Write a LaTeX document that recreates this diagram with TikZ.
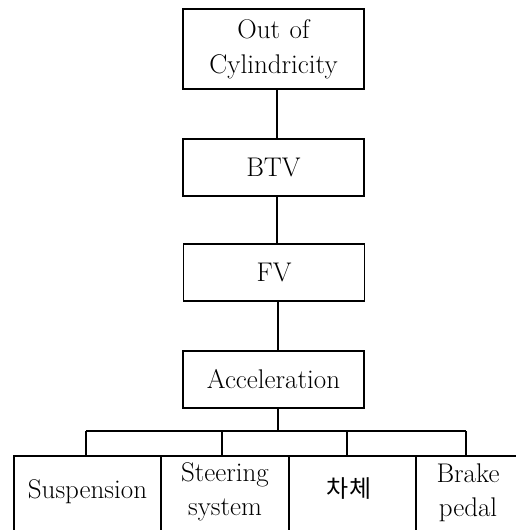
\documentclass[tikz,border=0pt]{standalone}
\usepackage{fontspec}
\newfontfamily\cjk{Noto Sans CJK KR}
\begin{document}
\begin{tikzpicture}[x=1pt,y=-1pt,
  line width=1.5pt,
  box/.style={draw, line width=1.5pt, minimum width=181pt, inner sep=0pt,
    font=\fontsize{27}{35}\selectfont, align=center},
  leaf/.style={draw, line width=1.5pt, minimum height=84pt, inner sep=0pt},
  leaftext/.style={inner sep=0pt, font=\fontsize{27}{34}\selectfont, align=center},
  wire/.style={draw, line width=1.5pt}]
\useasboundingbox (0,0) rectangle (516,530);
\clip (0,0) rectangle (516,530);
% main chain
\node[box, minimum height=80pt] (ooc) at (273.5,49) {Out\hspace{0.35em}of\\Cylindricity};
\node[box, minimum height=57pt] (btv) at (273.5,167.5) {BTV};
\node[box, minimum height=57pt] (fv)  at (274,272.5) {FV};
\node[box, minimum height=57pt] (acc) at (273.5,379.5) {Acceleration};
% bottom row frames
\node[leaf, minimum width=147pt] (susp)  at (87.5,498) {};
\node[leaf, minimum width=128pt] (steer) at (225,498) {};
\node[leaf, minimum width=127pt] (body)  at (352.5,498) {};
\node[leaf, minimum width=104pt] (brake) at (468,498) {};
% bottom row texts
\node[leaftext] (susptxt)  at (87.5,492) {Suspension};
\node[leaftext] (steertxt) at (225,492) {Steering\\system};
\node[leaftext, font=\cjk\fontsize{24}{30}\selectfont] (bodytxt) at (349,489) {차체};
\node[leaftext] (braketxt) at (468,493) {Brake\\pedal};
% connectors
\draw[wire] ([xshift=3.5pt]ooc.south) -- ([xshift=3.5pt]btv.north);
\draw[wire] ([xshift=3.5pt]btv.south) -- ([xshift=3pt]fv.north);
\draw[wire] ([xshift=4pt]fv.south) -- ([xshift=4.5pt]acc.north);
\coordinate (bus) at (0,431);
\draw[wire] ([xshift=4.5pt]acc.south) -- ([xshift=4.5pt]acc.south |- bus);
\draw[wire] ([xshift=-1.5pt]susp.north |- bus) -- ([xshift=-2pt]brake.north |- bus);
\draw[wire] ([xshift=-1.5pt]susp.north |- bus) -- ([xshift=-1.5pt]susp.north);
\draw[wire] ([xshift=-3pt]steer.north |- bus) -- ([xshift=-3pt]steer.north);
\draw[wire] ([xshift=-5.5pt]body.north |- bus) -- ([xshift=-5.5pt]body.north);
\draw[wire] ([xshift=-2pt]brake.north |- bus) -- ([xshift=-2pt]brake.north);
\end{tikzpicture}
\end{document}
